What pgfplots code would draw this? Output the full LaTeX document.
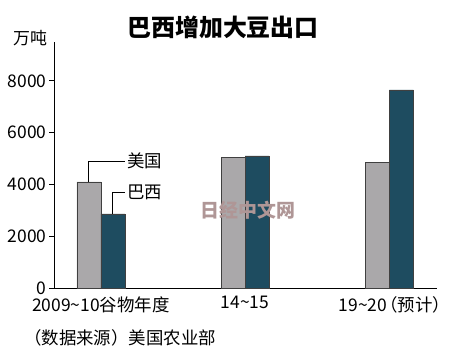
\documentclass[border=0pt]{standalone}
\usepackage{fontspec}
\setmainfont{Noto Sans CJK SC}
\usepackage{pgfplots}
\pgfplotsset{compat=1.18}
\definecolor{usgray}{RGB}{170,168,170}
\definecolor{brteal}{RGB}{30,76,96}
\definecolor{wm}{RGB}{175,150,150}
\begin{document}
\begin{tikzpicture}[x=1bp,y=1bp]
\path[use as bounding box] (0,0) rectangle (450,355);
\node[font=\fontsize{24}{26}\selectfont\bfseries] at (223,328) {巴西增加大豆出口};
\node[font=\fontsize{17}{18}\selectfont] at (30,317) {万吨};
\begin{axis}[at={(54bp,67bp)}, anchor=south west, scale only axis,
  width=383bp, height=246bp,
  xmin=-0.324, xmax=2.33, ymin=0, ymax=9500,
  axis x line=bottom, axis y line=left,
  axis line style={-, line width=0.8pt},
  ybar=0pt, bar width=24bp,
  ytick={0,2000,4000,6000,8000},
  xtick={0,1,2},
  xticklabels={2009\textasciitilde10谷物年度, 14\textasciitilde15, \hspace*{10bp}19\textasciitilde20\kern-7bp（预计）},
  x tick style={draw=none},
  y tick style={line width=0.8pt, black},
  tick align=outside, major tick length=5bp,
  scaled y ticks=false,
  /pgf/number format/assume math mode=true,
  /pgf/number format/set thousands separator={},
  ticklabel style={font=\fontsize{17.5}{18}\selectfont},
  yticklabel style={xshift=1bp},
  clip=false,
]
\addplot[fill=usgray, draw=black!75, line width=0.5pt] coordinates {(0,4100) (1,5050) (2,4860)};
\addplot[fill=brteal, draw=black!75, line width=0.5pt] coordinates {(0,2860) (1,5100) (2,7650)};
\draw[line width=0.6pt] (axis cs:-0.0832,4100) |- (axis cs:0.168,4900) node[anchor=west, inner sep=2bp, font=\fontsize{17.5}{18}\selectfont] {美国};
\draw[line width=0.6pt] (axis cs:0.0832,2860) |- (axis cs:0.168,3700) node[anchor=west, inner sep=2bp, font=\fontsize{17.5}{18}\selectfont] {巴西};
\end{axis}
\node[font=\fontsize{19}{20}\selectfont\bfseries, text=wm] at (248,145) {日经中文网};
\node[anchor=west, inner sep=0pt, font=\fontsize{17.5}{18}\selectfont] at (24,17) {（数据来源）美国农业部};
\end{tikzpicture}
\end{document}
